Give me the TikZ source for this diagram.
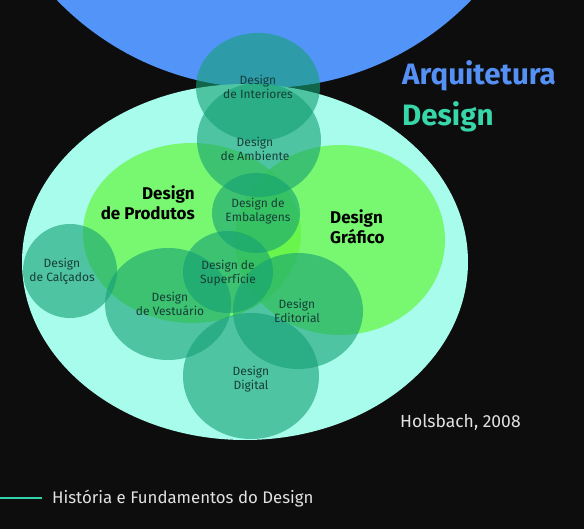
\documentclass[tikz,border=0pt]{standalone}
\usepackage{fontspec}
\setmainfont{Fira Sans}
\usetikzlibrary{shapes.geometric}
\definecolor{bgc}{RGB}{13,13,13}
\definecolor{bluec}{RGB}{83,148,248}
\definecolor{aquac}{RGB}{168,252,236}
\definecolor{greenc}{RGB}{100,245,60}
\definecolor{tealc}{RGB}{20,160,115}
\definecolor{labc}{RGB}{22,62,54}
\definecolor{titleblue}{RGB}{85,145,245}
\definecolor{titleteal}{RGB}{55,215,170}
\definecolor{footline}{RGB}{50,210,170}
\definecolor{greytext}{RGB}{225,225,225}
\tikzset{
  greenfill/.style={fill=greenc, fill opacity=0.7},
  tealfill/.style={fill=tealc, fill opacity=0.6},
  lab/.style={text=labc, align=center, inner sep=0pt, font=\fontsize{12}{14}\selectfont},
  biglab/.style={text=black, inner sep=0pt, font=\bfseries\fontsize{17}{20}\selectfont},
}
\begin{document}
\begin{tikzpicture}[x=1pt,y=-1pt]
\fill[bgc] (0,0) rectangle (584,529);
\useasboundingbox (0,0) rectangle (584,529);
\begin{scope}
\clip (0,0) rectangle (584,529);
% blue circle
\fill[bluec] (264,-200) circle[radius=288];
% aqua ellipse
\fill[aquac] (245,262) ellipse[x radius=223, y radius=178];
% green ellipses
\fill[greenfill] (192,233) ellipse[x radius=109, y radius=90];
\fill[greenfill] (340,240) ellipse[x radius=105, y radius=95];
% teal circles
\fill[tealfill] (258,87) ellipse[x radius=62, y radius=54];
\fill[tealfill] (259,140) ellipse[x radius=62, y radius=57];
\fill[tealfill] (256,213) ellipse[x radius=44, y radius=40];
\fill[tealfill] (228,272) ellipse[x radius=45, y radius=41];
\fill[tealfill] (168,304) ellipse[x radius=63, y radius=56];
\fill[tealfill] (70,271) ellipse[x radius=47, y radius=47];
\fill[tealfill] (298,311) ellipse[x radius=65, y radius=58];
\fill[tealfill] (251,376) ellipse[x radius=68, y radius=63];
\end{scope}
% labels
\node[lab] (interiores) at (258,87) {Design\\de Interiores};
\node[lab] (ambiente) at (255,149) {Design\\de Ambiente};
\node[lab] (embalagens) at (258,211) {Design de\\Embalagens};
\node[lab] (superficie) at (228,273) {Design de\\Superfície};
\node[lab] (vestuario) at (170,304) {Design\\de Vestuário};
\node[lab] (calcados) at (62,271) {Design\\de Calçados};
\node[lab] (editorial) at (297,311) {Design\\Editorial};
\node[lab] (digital) at (251,379) {Design\\Digital};
\node[biglab, align=right, anchor=east] (produtos) at (195,203) {Design\\de Produtos};
\node[biglab, align=left, anchor=west] (grafico) at (330,227) {Design\\Gráfico};
% titles
\node[anchor=base west, inner sep=0pt, text=titleblue, font=\bfseries\fontsize{29.5}{32}\selectfont] (arq) at (402,85) {Arquitetura};
\node[anchor=base west, inner sep=0pt, text=titleteal, font=\bfseries\fontsize{29.5}{32}\selectfont] (des) at (402,126) {Design};
\node[anchor=base west, inner sep=0pt, text=greytext, font=\fontsize{17.5}{20}\selectfont] (holsbach) at (400,428) {Holsbach, 2008};
\coordinate (fl0) at (0,498);
\coordinate (fl1) at (42,498);
\draw[footline, line width=2pt] (fl0) -- (fl1);
\node[anchor=base west, inner sep=0pt, text=greytext, font=\fontsize{16.8}{19}\selectfont] (footer) at (52,503) {História e Fundamentos do Design};
\end{tikzpicture}
\end{document}
